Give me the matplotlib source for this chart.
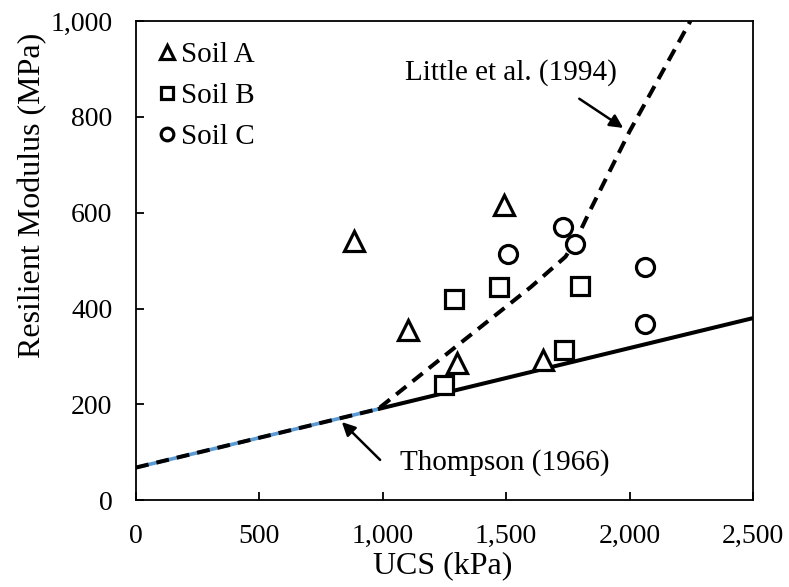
import numpy as np
import matplotlib.pyplot as plt
from matplotlib.ticker import FuncFormatter

plt.rcParams["font.family"] = ["Liberation Serif", "DejaVu Serif"]

# measured points (UCS kPa, resilient modulus MPa)
soil_a_ucs = [884, 1104, 1300, 1492, 1649]
soil_a_mr = [541, 355, 287, 616, 292]
soil_b_ucs = [1246, 1289, 1471, 1736, 1797]
soil_b_mr = [240, 420, 445, 313, 447]
soil_c_ucs = [1509, 1731, 1780, 2063, 2063]
soil_c_mr = [514, 571, 534, 487, 367]

# Thompson (1966) line
thompson_ucs = [0, 980, 2500]
thompson_mr = [68, 190, 380]

# Little et al. (1994) curve
little_ucs = [0, 980, 1300, 1600, 1740, 1780, 1840, 2000, 2246]
little_mr = [68, 190, 322, 445, 508, 540, 605, 770, 1000]

fig = plt.figure(figsize=(7.89, 5.87), dpi=100)
ax = fig.add_axes([0.1724, 0.148, 0.782, 0.816])

# blue segment under dashed line, black solid beyond break
ax.plot(thompson_ucs[:2], thompson_mr[:2], color="#5b9bd5", lw=2.6, zorder=2)
ax.plot(thompson_ucs[1:], thompson_mr[1:], color="black", lw=2.9, zorder=2,
        solid_capstyle="butt")
ax.plot(little_ucs, little_mr, color="black", lw=2.9, ls=(0, (3.2, 2.0)), zorder=3)

mk = dict(ls="none", mfc="white", mec="black", mew=2.3, zorder=4)
ax.plot(soil_a_ucs, soil_a_mr, marker="^", ms=14, label="Soil A", **mk)
ax.plot(soil_b_ucs, soil_b_mr, marker="s", ms=13, label="Soil B", **mk)
ax.plot(soil_c_ucs, soil_c_mr, marker="o", ms=13, label="Soil C", **mk)

ax.set_xlim(0, 2500)
ax.set_ylim(0, 1000)
ax.set_xticks(np.arange(0, 2501, 500))
ax.set_yticks(np.arange(0, 1001, 200))
fmt = FuncFormatter(lambda v, p: f"{int(v):,}")
ax.xaxis.set_major_formatter(fmt)
ax.yaxis.set_major_formatter(fmt)
ax.tick_params(direction="in", length=6, width=1.3, labelsize=20, pad=17)
for s in ax.spines.values():
    s.set_linewidth(1.3)

ax.set_xlabel("UCS (kPa)", fontsize=23)
ax.set_ylabel("Resilient Modulus (MPa)", fontsize=23)
ax.xaxis.set_label_coords(0.497, -0.106)
ax.yaxis.set_label_coords(-0.144, 0.637)

# annotations: text and arrows
ax.text(1520, 893, "Little et al. (1994)", fontsize=21, ha="center", va="center")
ax.annotate("", xy=(1974, 777), xytext=(1796, 838),
            arrowprops=dict(arrowstyle="-|>", color="black", lw=1.8,
                            mutation_scale=20, shrinkA=0, shrinkB=0))
ax.text(1496, 79, "Thompson (1966)", fontsize=21, ha="center", va="center")
ax.annotate("", xy=(834, 163), xytext=(989, 84),
            arrowprops=dict(arrowstyle="-|>", color="black", lw=1.8,
                            mutation_scale=20, shrinkA=0, shrinkB=0))

ax.legend(loc="upper left", bbox_to_anchor=(0.0, 1.0), frameon=False,
          fontsize=21, handlelength=0.7, handletextpad=0.15, labelspacing=0.5,
          borderpad=0.4, borderaxespad=0.3, markerscale=0.7)

fig.savefig("out.png", dpi=100)
